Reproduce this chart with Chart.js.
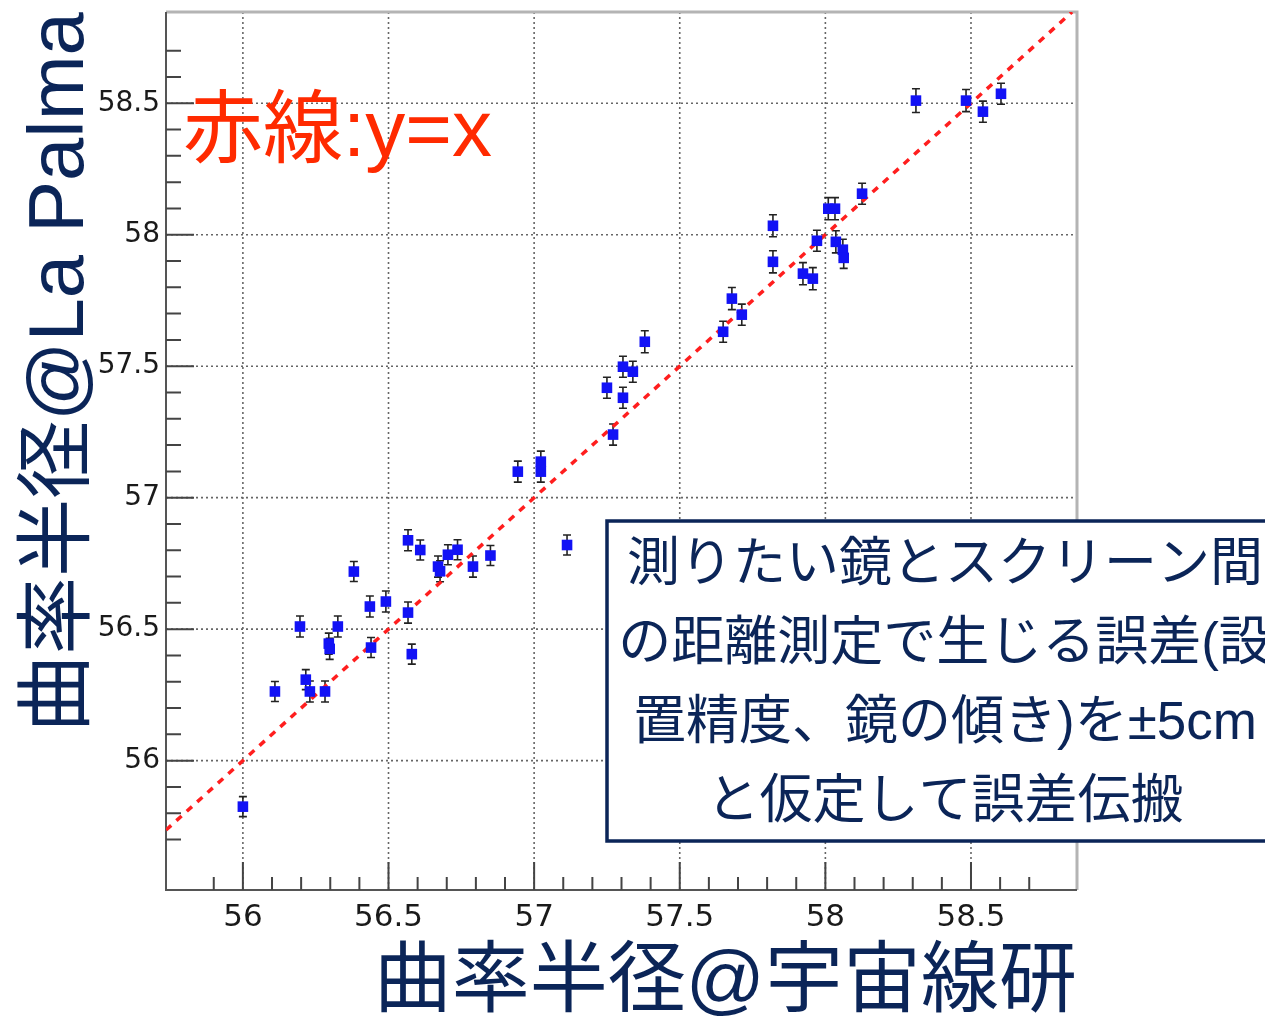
<!DOCTYPE html>
<html>
<head>
<meta charset="utf-8">
<script src="https://cdn.jsdelivr.net/npm/chart.js@4.4.1/dist/chart.umd.min.js"></script>
<style>
  html, body { margin: 0; padding: 0; background: #fff; }
  #wrap { width: 1265px; height: 1023px; }
</style>
</head>
<body>
<div id="wrap"><canvas id="chart"></canvas></div>
<script>
// radius of curvature: ICRR (x) vs La Palma (y)
const xVals = [56.00, 56.11, 56.196, 56.216, 56.23, 56.282, 56.295, 56.298, 56.326, 56.381,
               56.44, 56.436, 56.491, 56.567, 56.567, 56.58, 56.609, 56.67, 56.677, 56.704,
               56.737, 56.79, 56.85, 56.944, 57.023, 57.023, 57.113, 57.25, 57.271, 57.305,
               57.305, 57.339, 57.38, 57.649, 57.679, 57.713, 57.82, 57.82, 57.923, 57.957,
               57.971, 58.01, 58.033, 58.036, 58.06, 58.063, 58.126, 58.311, 58.483, 58.541,
               58.603];
const yVals = [55.825, 56.263, 56.51, 56.308, 56.263, 56.263, 56.445, 56.425, 56.51, 56.719,
               56.43, 56.586, 56.605, 56.838, 56.563, 56.405, 56.801, 56.738, 56.72, 56.783,
               56.802, 56.738, 56.78, 57.099, 57.137, 57.099, 56.82, 57.418, 57.24, 57.498,
               57.38, 57.479, 57.593, 57.631, 57.757, 57.696, 58.034, 57.897, 57.852, 57.833,
               57.977, 58.099, 58.099, 57.973, 57.943, 57.912, 58.156, 58.51, 58.51, 58.468,
               58.536];
const yErr = [0.038, 0.038, 0.04, 0.038, 0.04, 0.04, 0.04, 0.04, 0.04, 0.038,
              0.038, 0.04, 0.04, 0.04, 0.04, 0.038, 0.038, 0.04, 0.04, 0.038,
              0.038, 0.04, 0.038, 0.04, 0.04, 0.04, 0.038, 0.04, 0.04, 0.04,
              0.04, 0.04, 0.042, 0.04, 0.042, 0.04, 0.042, 0.042, 0.042, 0.042,
              0.04, 0.042, 0.042, 0.042, 0.04, 0.04, 0.04, 0.045, 0.042, 0.04,
              0.04];

const xRange = [55.736, 58.864];
const yRange = [55.508, 58.847];
const majorTicks = [56, 56.5, 57, 57.5, 58, 58.5];
const minorStep = 0.1;

const xTitle = '曲率半径@宇宙線研';
const yTitle = '曲率半径@La Palma';
const redNote = '赤線:y=x';
const boxLines = ['測りたい鏡とスクリーン間', 'の距離測定で生じる誤差(設', '置精度、鏡の傾き)を±5cm', 'と仮定して誤差伝搬'];

const navy = '#0b2558';
const cjk = '"Liberation Sans", "Noto Sans CJK JP", sans-serif';

const isMajor = v => majorTicks.some(m => Math.abs(m - v) < 1e-6);
const onStep = v => Math.abs(v / minorStep - Math.round(v / minorStep)) < 1e-6;

const rootFrame = {
    id: 'rootFrame',
    beforeDatasetsDraw(chart) {
        const { ctx, chartArea: a, scales: { x, y } } = chart;
        ctx.save();
        // dotted grid at labelled values
        ctx.strokeStyle = '#666';
        ctx.lineWidth = 1.6;
        ctx.setLineDash([2, 3]);
        majorTicks.forEach(v => {
            const px = x.getPixelForValue(v);
            const py = y.getPixelForValue(v);
            ctx.beginPath();
            ctx.moveTo(px, a.top); ctx.lineTo(px, a.bottom);
            ctx.moveTo(a.left, py); ctx.lineTo(a.right, py);
            ctx.stroke();
        });
        ctx.setLineDash([]);

        // frame
        ctx.strokeStyle = '#b4b4b4';
        ctx.lineWidth = 3;
        ctx.beginPath();
        ctx.moveTo(a.left, a.top); ctx.lineTo(a.right, a.top); ctx.lineTo(a.right, a.bottom);
        ctx.stroke();
        ctx.strokeStyle = '#555';
        ctx.lineWidth = 2;
        ctx.beginPath();
        ctx.moveTo(a.left, a.top); ctx.lineTo(a.left, a.bottom); ctx.lineTo(a.right, a.bottom);
        ctx.stroke();

        // ticks pointing inwards
        ctx.strokeStyle = '#444';
        ctx.lineWidth = 2;
        ctx.beginPath();
        x.ticks.forEach(t => {
            if (!onStep(t.value)) return;
            const px = x.getPixelForValue(t.value);
            ctx.moveTo(px, a.bottom);
            ctx.lineTo(px, a.bottom - (isMajor(t.value) ? 28 : 13));
        });
        y.ticks.forEach(t => {
            if (!onStep(t.value)) return;
            const py = y.getPixelForValue(t.value);
            ctx.moveTo(a.left, py);
            ctx.lineTo(a.left + (isMajor(t.value) ? 28 : 15), py);
        });
        ctx.stroke();

        // error bars
        ctx.strokeStyle = '#222';
        ctx.lineWidth = 1.6;
        ctx.beginPath();
        xVals.forEach((xv, i) => {
            const px = x.getPixelForValue(xv);
            const hi = y.getPixelForValue(yVals[i] + yErr[i]);
            const lo = y.getPixelForValue(yVals[i] - yErr[i]);
            ctx.moveTo(px, hi); ctx.lineTo(px, lo);
            ctx.moveTo(px - 4, hi); ctx.lineTo(px + 4, hi);
            ctx.moveTo(px - 4, lo); ctx.lineTo(px + 4, lo);
        });
        ctx.stroke();
        ctx.restore();
    },
    afterDraw(chart) {
        const { ctx } = chart;
        ctx.save();
        ctx.fillStyle = '#ff2a00';
        ctx.font = '80px ' + cjk;
        ctx.textAlign = 'left';
        ctx.textBaseline = 'alphabetic';
        ctx.fillText(redNote, 183, 156);

        // note box, runs off the right edge
        ctx.fillStyle = '#fff';
        ctx.fillRect(606, 520, 700, 322);
        ctx.strokeStyle = navy;
        ctx.lineWidth = 3.5;
        ctx.strokeRect(607, 521, 700, 320);
        ctx.fillStyle = navy;
        ctx.font = '53px ' + cjk;
        ctx.textAlign = 'center';
        ctx.textBaseline = 'middle';
        boxLines.forEach((s, i) => ctx.fillText(s, 945, 566 + i * 79));
        ctx.restore();
    }
};

document.addEventListener('DOMContentLoaded', function() {
    new Chart(document.getElementById('chart'), {
        type: 'scatter',
        data: {
            datasets: [{
                label: 'y=x',
                data: [{ x: xRange[0], y: xRange[0] }, { x: yRange[1], y: yRange[1] }],
                showLine: true,
                borderColor: '#ff1e1e',
                borderWidth: 3.5,
                borderDash: [7, 7],
                pointRadius: 0,
                order: 2
            }, {
                label: 'mirrors',
                data: xVals.map((xv, i) => ({ x: xv, y: yVals[i] })),
                pointStyle: 'rect',
                pointRadius: 7.5,
                pointHoverRadius: 7.5,
                backgroundColor: '#1212f5',
                borderColor: '#1212f5',
                borderWidth: 0,
                order: 1
            }]
        },
        options: {
            responsive: true,
            maintainAspectRatio: false,
            animation: false,
            layout: { padding: { top: 12, right: 188, left: 0, bottom: 0 } },
            plugins: { legend: { display: false }, tooltip: { enabled: false } },
            scales: {
                x: {
                    type: 'linear',
                    min: xRange[0],
                    max: xRange[1],
                    grid: { display: false, drawTicks: false },
                    border: { display: false },
                    ticks: {
                        stepSize: minorStep,
                        maxTicksLimit: 100,
                        autoSkip: false,
                        maxRotation: 0,
                        padding: 9,
                        color: '#1a1a1a',
                        font: { family: 'DejaVu Sans', size: 31 },
                        callback: v => isMajor(v) ? String(Number(v.toFixed(1))) : ''
                    },
                    title: {
                        display: true,
                        text: xTitle,
                        align: 'end',
                        color: navy,
                        padding: { top: 0, bottom: 0 },
                        font: { family: cjk, size: 78, lineHeight: 1 }
                    },
                    afterFit: s => { s.height = 133; s.paddingLeft = 0; s.paddingRight = 0; }
                },
                y: {
                    type: 'linear',
                    min: yRange[0],
                    max: yRange[1],
                    grid: { display: false, drawTicks: false },
                    border: { display: false },
                    ticks: {
                        stepSize: minorStep,
                        maxTicksLimit: 100,
                        autoSkip: false,
                        padding: 6,
                        color: '#1a1a1a',
                        font: { family: 'DejaVu Sans', size: 28 },
                        callback: v => isMajor(v) ? String(Number(v.toFixed(1))) : ''
                    },
                    title: {
                        display: true,
                        text: yTitle,
                        align: 'end',
                        color: navy,
                        padding: { top: 22, bottom: 0 },
                        font: { family: cjk, size: 78, lineHeight: 1 }
                    },
                    afterFit: s => { s.width = 166; s.paddingTop = 0; s.paddingBottom = 0; }
                }
            }
        },
        plugins: [rootFrame]
    });
});
</script>
</body>
</html>
